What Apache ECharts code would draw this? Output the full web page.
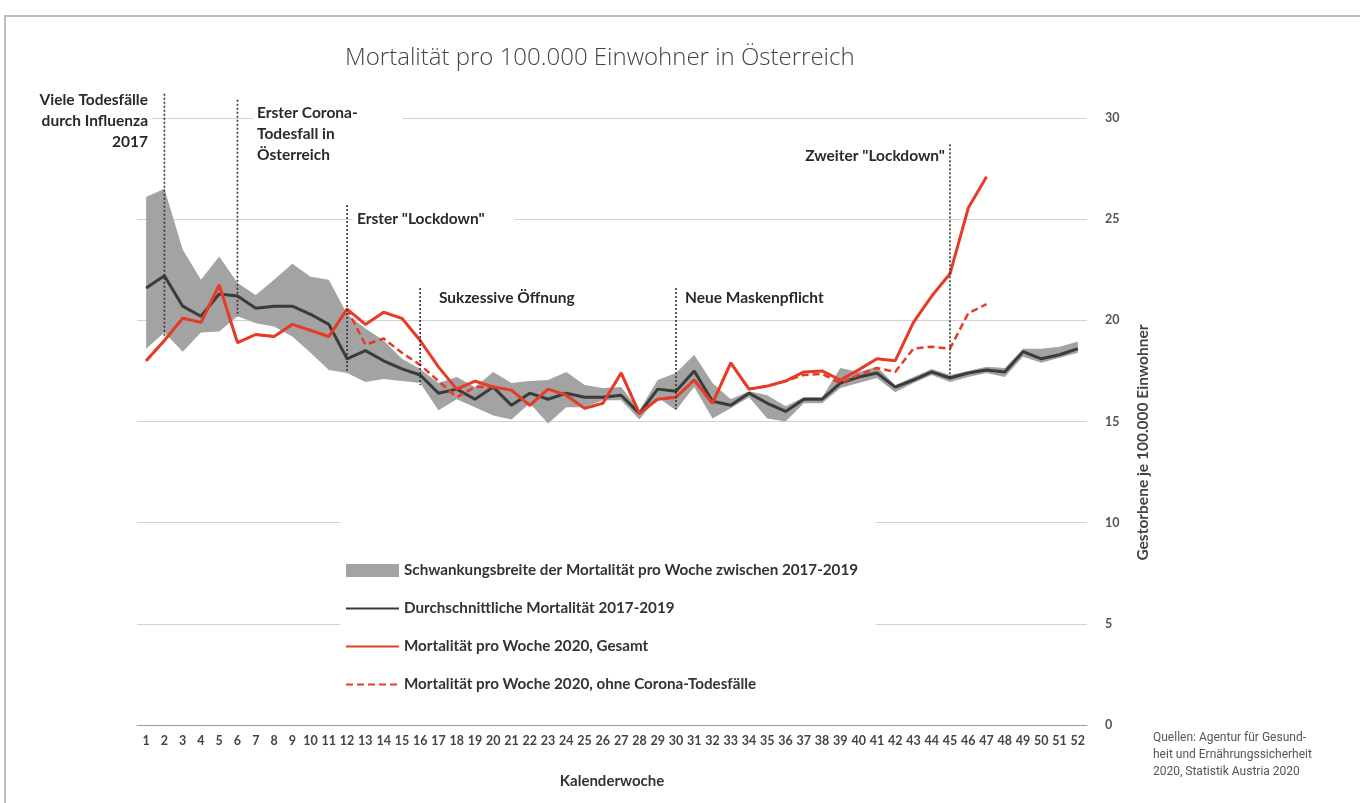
<!DOCTYPE html>
<html>
<head>
<meta charset="utf-8">
<script src="https://cdn.jsdelivr.net/npm/echarts@6/dist/echarts.min.js"></script>
<style>
html, body { margin: 0; padding: 0; background: #fff; overflow: hidden; }
#chart { width: 1360px; height: 803px; }
#frame { position: absolute; left: 4px; top: 15px; width: 1400px; height: 900px;
  border-left: 2px solid #bcbcbc; border-top: 2px solid #bcbcbc; pointer-events: none; }
</style>
</head>
<body>
<div id="chart"></div>
<div id="frame"></div>
<script>
// Kalenderwochen 1..52
var weeks = [];
for (var w = 1; w <= 52; w++) weeks.push(String(w));

// Schwankungsbreite 2017-2019 (min / max)
var bandLow = [18.6, 19.4, 18.45, 19.4, 19.45, 20.2, 19.85, 19.7, 19.2, 18.4, 17.55, 17.4, 16.95, 17.1, 17.0, 16.9,
  15.55, 16.1, 15.7, 15.3, 15.1, 15.9, 14.9, 15.7, 15.7, 16.05, 16.05, 15.1, 16.2, 15.55, 16.7, 15.15, 15.65, 16.2,
  15.15, 15.0, 15.9, 15.9, 16.65, 16.9, 17.15, 16.45, 16.9, 17.3, 16.95, 17.2, 17.4, 17.2, 18.2, 17.9, 18.15, 18.4];
var bandHigh = [26.1, 26.5, 23.5, 22.0, 23.15, 21.85, 21.25, 22.0, 22.8, 22.15, 22.0, 20.3, 19.6, 19.0, 18.1, 17.6,
  16.9, 17.2, 16.7, 17.45, 16.9, 17.0, 17.05, 17.45, 16.8, 16.65, 16.7, 15.55, 17.05, 17.4, 18.3, 16.9, 16.1, 16.5,
  16.3, 15.75, 16.2, 16.2, 17.65, 17.45, 17.7, 16.8, 17.2, 17.6, 17.3, 17.5, 17.7, 17.65, 18.6, 18.6, 18.7, 18.95];

// Durchschnitt 2017-2019
var avg = [21.6, 22.2, 20.7, 20.2, 21.3, 21.2, 20.6, 20.7, 20.7, 20.3, 19.8, 18.1, 18.5, 18.0, 17.6, 17.3,
  16.4, 16.6, 16.1, 16.7, 15.8, 16.4, 16.1, 16.4, 16.2, 16.2, 16.3, 15.4, 16.6, 16.5, 17.5, 16.0, 15.8, 16.4,
  15.9, 15.5, 16.1, 16.1, 16.9, 17.2, 17.4, 16.7, 17.05, 17.45, 17.15, 17.4, 17.55, 17.45, 18.45, 18.1, 18.3, 18.6];

// 2020 gesamt
var total2020 = [18.0, 19.0, 20.1, 19.9, 21.75, 18.9, 19.3, 19.2, 19.8, 19.5, 19.2, 20.55, 19.8, 20.4, 20.1, 19.0,
  17.7, 16.6, 17.0, 16.7, 16.55, 15.8, 16.6, 16.3, 15.65, 15.9, 17.4, 15.4, 16.1, 16.2, 17.05, 15.9, 17.9, 16.6,
  16.75, 17.0, 17.45, 17.5, 17.05, 17.55, 18.1, 18.0, 19.9, 21.2, 22.3, 25.55, 27.1];

// 2020 ohne Corona-Todesfälle
var noCorona2020 = [18.0, 19.0, 20.1, 19.9, 21.75, 18.9, 19.3, 19.2, 19.8, 19.5, 19.2, 20.55, 18.8, 19.1, 18.4, 17.8,
  17.0, 16.2, 16.7, 16.7, 16.55, 15.8, 16.6, 16.3, 15.65, 15.9, 17.4, 15.4, 16.1, 16.2, 17.05, 15.9, 17.9, 16.6,
  16.75, 17.0, 17.3, 17.35, 16.9, 17.3, 17.65, 17.45, 18.6, 18.7, 18.6, 20.35, 20.8];

// gepunktete Markierungen: Woche, oberes und unteres Ende
var markWeek = [2, 6, 12, 16, 30, 45];
var markTop = [31.2, 30.9, 25.7, 21.6, 21.6, 28.7];
var markBottom = [19.2, 20.2, 17.5, 16.8, 15.6, 17.05];

var bandName = 'Schwankungsbreite der Mortalität pro Woche zwischen 2017-2019';
var avgName = 'Durchschnittliche Mortalität 2017-2019';
var totalName = 'Mortalität pro Woche 2020, Gesamt';
var noCoronaName = 'Mortalität pro Woche 2020, ohne Corona-Todesfälle';

var bandDiff = [];
for (var i = 0; i < bandLow.length; i++) {
    bandDiff.push(+(bandHigh[i] - bandLow[i]).toFixed(2));
}
var markData = [];
for (var j = 0; j < markWeek.length; j++) {
    markData.push([markWeek[j] - 1, markTop[j], markBottom[j]]);
}

var red = '#e63b27';

function note(text, x, y, align, pad) {
    var el = {
        type: 'text', top: y, z: 10,
        style: {
            text: text, fontFamily: 'Lato', fontWeight: 'bold', fontSize: 15.5,
            fill: '#2a2a2a', lineHeight: 21, align: align || 'left', textAlign: align || 'left',
            backgroundColor: '#fff', padding: pad || [1, 4]
        }
    };
    if (align === 'right') el.right = 1360 - x; else el.left = x;
    return el;
}

var myChart = echarts.init(document.getElementById('chart'));
myChart.setOption({
    animation: false,
    title: {
        text: 'Mortalität pro 100.000 Einwohner in Österreich',
        left: 340, top: 41,
        textStyle: {fontFamily: 'Open Sans', fontWeight: 300, fontSize: 24, color: '#444'}
    },
    grid: {left: 137, right: 273, top: 118, bottom: 78},
    legend: {
        orient: 'vertical', left: 340, top: 513,
        padding: [50, 18, 12, 5],
        backgroundColor: '#fff',
        itemWidth: 53, itemHeight: 13, itemGap: 23,
        textStyle: {fontFamily: 'Lato', fontWeight: 'bold', fontSize: 15.2, color: '#333'},
        data: [
            {name: bandName, icon: 'rect', itemStyle: {color: '#a3a3a3'}},
            {name: avgName, itemStyle: {opacity: 0}},
            {name: totalName, itemStyle: {opacity: 0}},
            {name: noCoronaName, itemStyle: {opacity: 0}}
        ]
    },
    xAxis: {
        type: 'category', data: weeks, boundaryGap: true,
        axisLine: {lineStyle: {color: '#9a9a9a'}},
        axisTick: {length: 4, lineStyle: {color: '#9a9a9a'}},
        axisLabel: {interval: 0, margin: 9, fontFamily: 'Lato', fontWeight: 'bold', fontSize: 12.5, color: '#444'},
        name: 'Kalenderwoche', nameLocation: 'middle', nameGap: 49,
        nameTextStyle: {fontFamily: 'Lato', fontWeight: 'bold', fontSize: 15, color: '#333'}
    },
    yAxis: {
        type: 'value', position: 'right', min: 0, max: 30, interval: 5,
        axisLine: {show: false}, axisTick: {show: false},
        splitLine: {lineStyle: {color: '#d2d2d2'}},
        axisLabel: {margin: 18, fontFamily: 'Lato', fontWeight: 'bold', fontSize: 12.5, color: '#555'},
        name: 'Gestorbene je 100.000 Einwohner', nameLocation: 'middle', nameGap: 48, nameRotate: 90,
        nameTextStyle: {fontFamily: 'Lato', fontWeight: 'bold', fontSize: 15.5, color: '#444', padding: [0, 42, 0, 0]}
    },
    graphic: [
        note('Viele Todesfälle\ndurch Influenza\n2017', 152, 88, 'right'),
        note('Erster Corona-\nTodesfall in\nÖsterreich', 253, 101, 'left', [1, 45, 1, 4]),
        note('Erster "Lockdown"', 353, 207, 'left', [1, 30, 1, 4]),
        note('Sukzessive Öffnung', 435, 286),
        note('Neue Maskenpflicht', 681, 286),
        note('Zweiter "Lockdown"', 949, 144, 'right'),
        {
            type: 'text', left: 1153, top: 729, z: 10,
            style: {
                text: 'Quellen: Agentur für Gesund-\nheit und Ernährungssicherheit\n2020, Statistik Austria 2020',
                fontFamily: 'Roboto', fontSize: 12, lineHeight: 17, fill: '#555'
            }
        }
    ],
    series: [
        {
            type: 'line', stack: 'band', data: bandLow, symbol: 'none', silent: true,
            lineStyle: {opacity: 0}
        },
        {
            name: bandName, type: 'line', stack: 'band', data: bandDiff, symbol: 'none', silent: true,
            color: '#a3a3a3', lineStyle: {opacity: 0}, areaStyle: {color: '#a3a3a3', opacity: 1}
        },
        {
            name: avgName, type: 'line', data: avg, symbol: 'none', color: '#3b3b3b',
            lineStyle: {width: 3, color: '#3b3b3b'}
        },
        {
            name: noCoronaName, type: 'line', data: noCorona2020, symbol: 'none', color: red,
            lineStyle: {width: 2.5, color: red, type: [7, 4]}
        },
        {
            name: totalName, type: 'line', data: total2020, symbol: 'none', color: red,
            lineStyle: {width: 3, color: red}
        },
        {
            type: 'custom', data: markData, z: 4, silent: true,
            encode: {x: 0, y: [1, 2]},
            renderItem: function (params, api) {
                var p1 = api.coord([api.value(0), api.value(1)]);
                var p2 = api.coord([api.value(0), api.value(2)]);
                return {
                    type: 'line',
                    shape: {x1: p1[0], y1: p1[1], x2: p2[0], y2: p2[1]},
                    style: {stroke: '#333', lineWidth: 1.6, lineDash: [2, 2]}
                };
            }
        }
    ]
});
</script>
</body>
</html>
